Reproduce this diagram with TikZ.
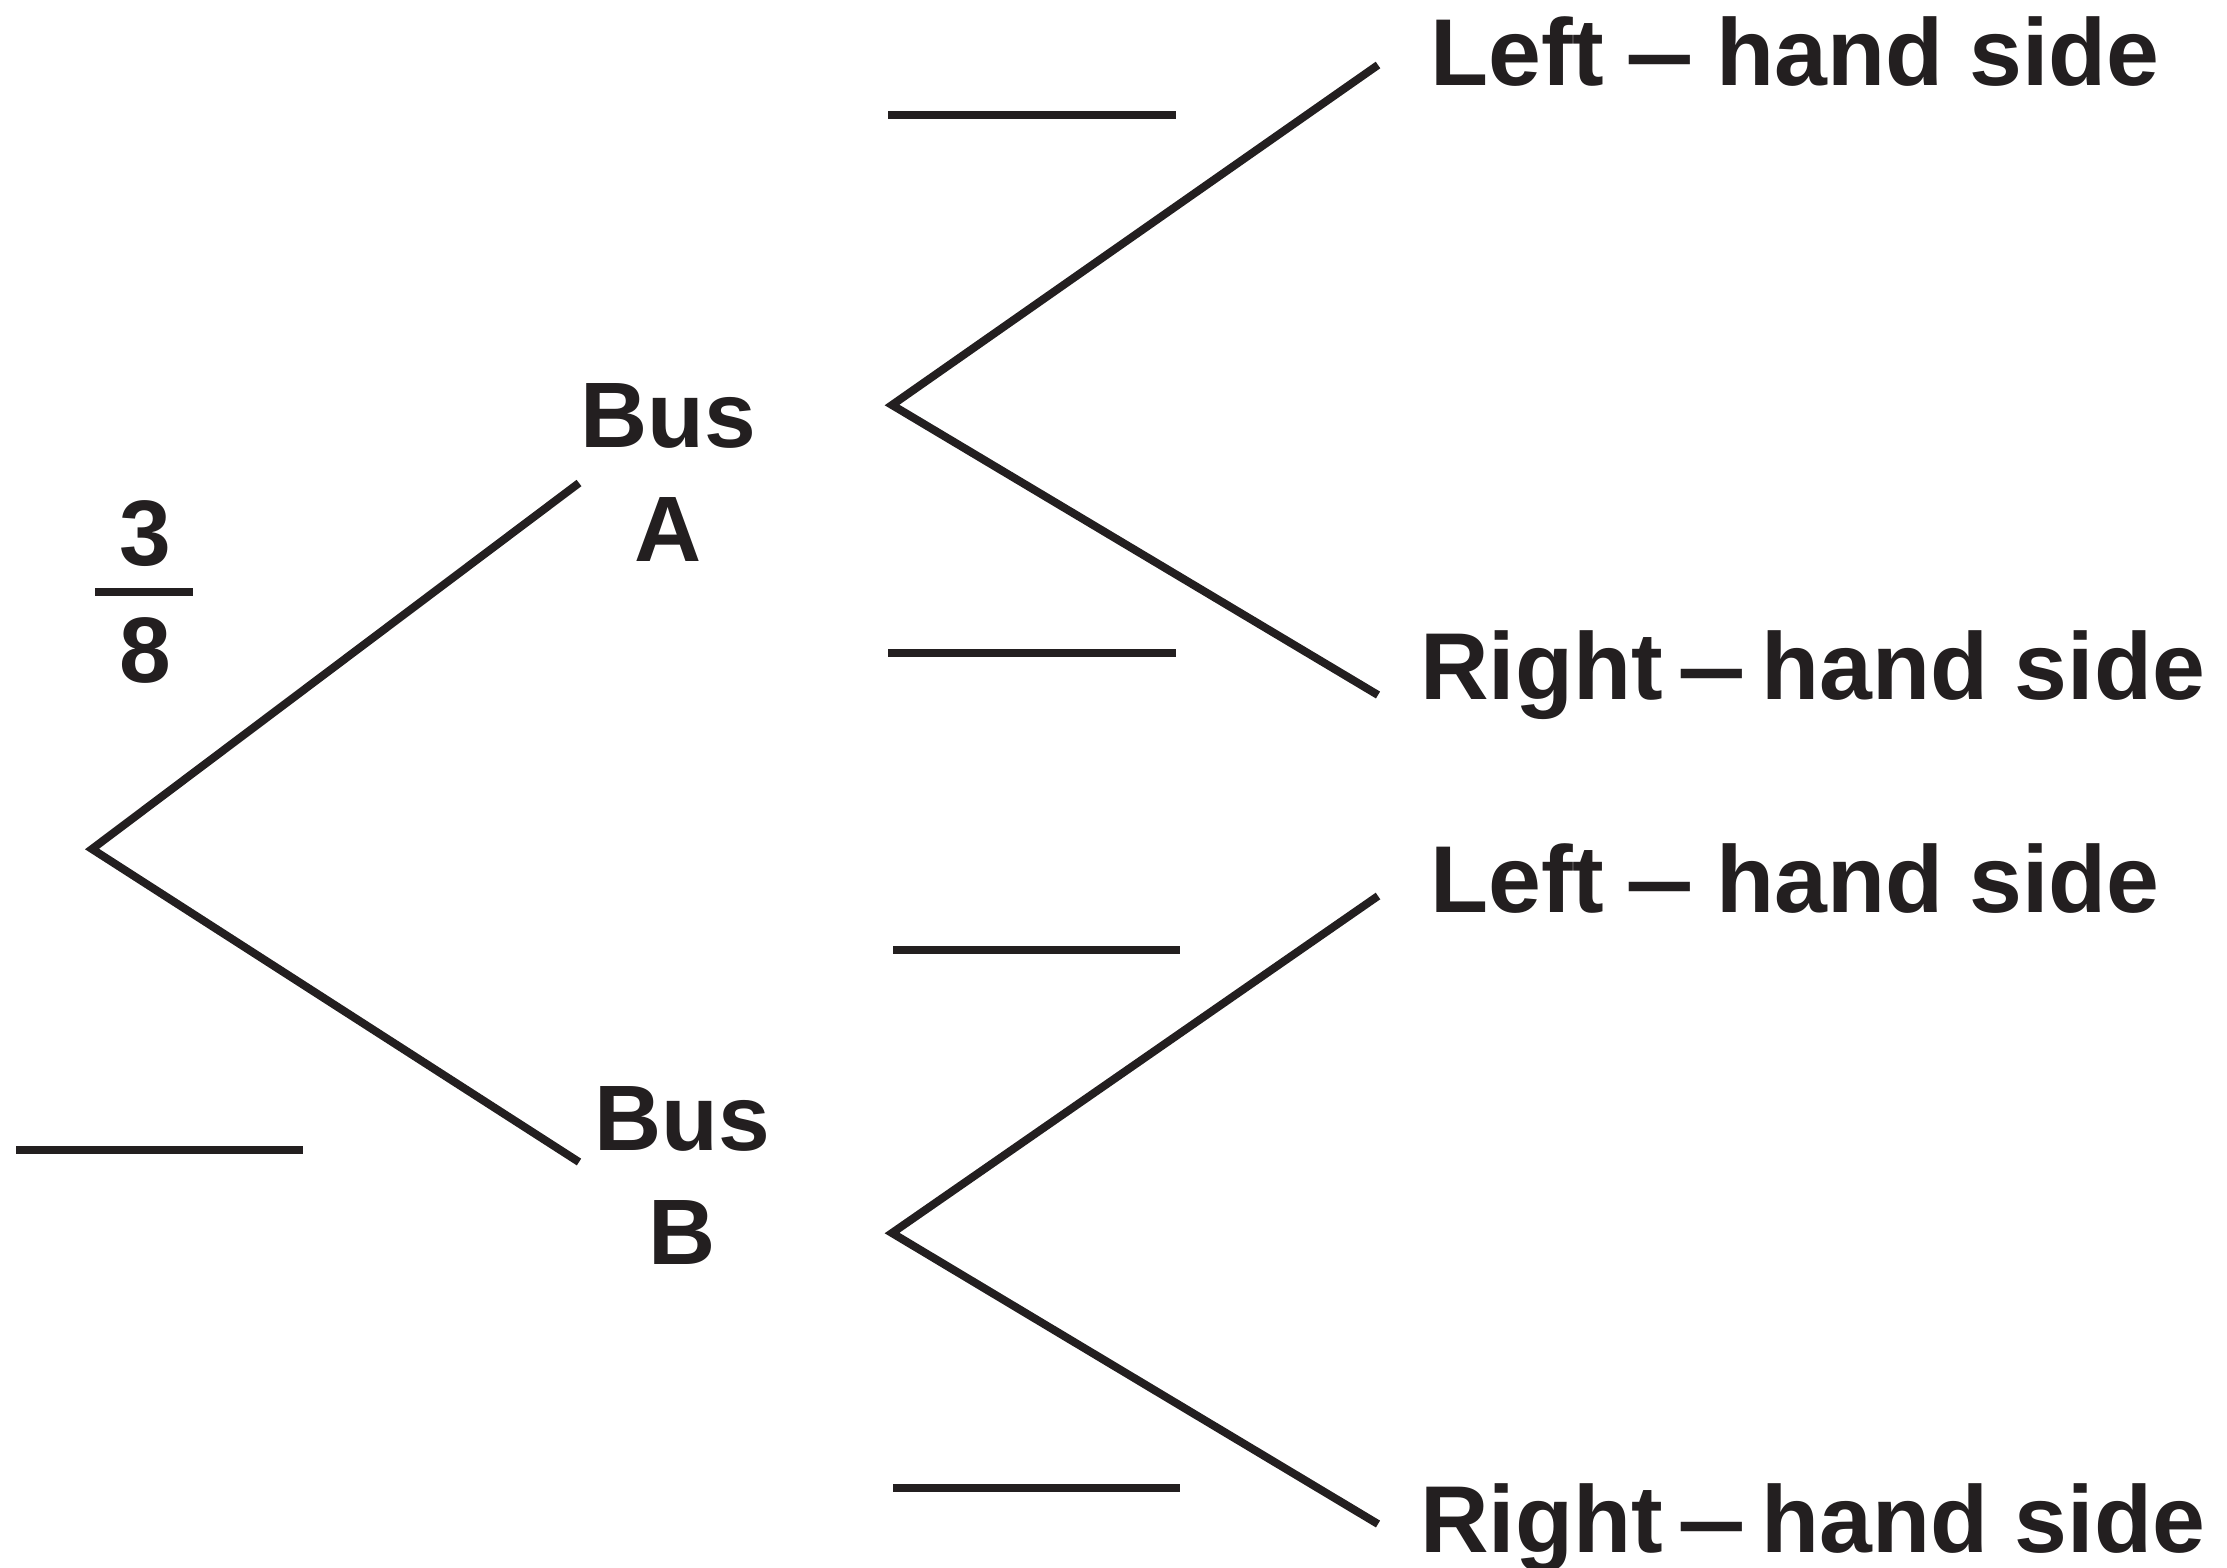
\documentclass[tikz,border=0pt]{standalone}
\usepackage{fontspec}
\setmainfont{Liberation Sans}
\definecolor{ink}{HTML}{231F20}
% a slightly wider dash between the words of the outcome labels
\newcommand{\widedash}{\scalebox{1.3}[1]{–}}
\begin{document}
\begin{tikzpicture}[x=1pt,y=-1pt,
  branch/.style={draw=ink,line width=8pt,line join=miter},
  blank/.style={draw=ink,line width=8pt},
  lbl/.style={inner sep=0pt,anchor=base west,text=ink,font=\fontsize{95}{100}\selectfont\bfseries},
  bus/.style={inner sep=0pt,anchor=base,text=ink,font=\fontsize{93}{100}\selectfont\bfseries}]
\useasboundingbox (0,0) rectangle (2227,1567);
% tree vertices and branch ends
\coordinate (root) at (92,849);
\coordinate (aEnd) at (579,483);
\coordinate (bEnd) at (579,1162);
\coordinate (aFork) at (892,405);
\coordinate (aL) at (1378,65);
\coordinate (aR) at (1378,695);
\coordinate (bFork) at (892,1233);
\coordinate (bL) at (1378,896);
\coordinate (bR) at (1378,1524);
\draw[branch] (aEnd) -- (root) -- (bEnd);
\draw[branch] (aL) -- (aFork) -- (aR);
\draw[branch] (bL) -- (bFork) -- (bR);
% blanks for the probabilities
\coordinate (p1s) at (888,115);  \coordinate (p1e) at (1176,115);
\coordinate (p2s) at (888,653);  \coordinate (p2e) at (1176,653);
\coordinate (p3s) at (893,950);  \coordinate (p3e) at (1180,950);
\coordinate (p4s) at (893,1488); \coordinate (p4e) at (1180,1488);
\coordinate (p5s) at (16,1150);  \coordinate (p5e) at (303,1150);
\draw[blank] (p1s) -- (p1e);
\draw[blank] (p2s) -- (p2e);
\draw[blank] (p3s) -- (p3e);
\draw[blank] (p4s) -- (p4e);
\draw[blank] (p5s) -- (p5e);
% given probability 3/8
\node[bus] (num) at (145,565) {3};
\node[bus] (den) at (145,682) {8};
\coordinate (barL) at (95,592); \coordinate (barR) at (193,592);
\draw[draw=ink,line width=8pt] (barL) -- (barR);
% bus labels
\node[bus] (busA1) at (668,447) {Bus};
\node[bus] (busA2) at (668,561) {A};
\node[bus] (busB1) at (682,1150) {Bus};
\node[bus] (busB2) at (682,1264) {B};
% outcome labels
\node[lbl] (o1) at (1430,85) {Left\hspace{-0.05em} \widedash\hspace{-0.05em} hand side};
\node[lbl] (o2) at (1420,699) {Right\hspace{-0.12em} \widedash\hspace{-0.12em} hand side};
\node[lbl] (o3) at (1430,912) {Left\hspace{-0.05em} \widedash\hspace{-0.05em} hand side};
\node[lbl] (o4) at (1420,1552) {Right\hspace{-0.12em} \widedash\hspace{-0.12em} hand side};
\end{tikzpicture}
\end{document}
